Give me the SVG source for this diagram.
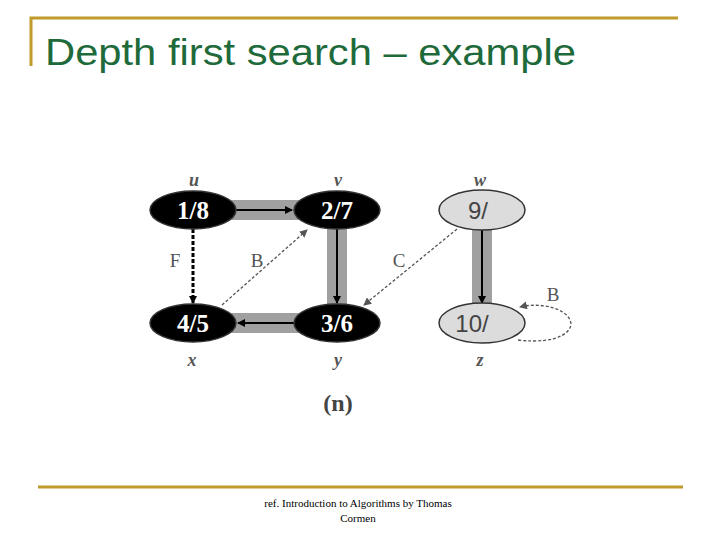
<svg xmlns="http://www.w3.org/2000/svg" width="720" height="540" viewBox="0 0 720 540">
<defs>
<style>
.gold{stroke:#c09a2a;stroke-width:3;fill:none}
.tree{stroke:#a0a0a0;stroke-width:20;fill:none}
.e{stroke:#000;stroke-width:2;fill:none}
.d{stroke:#555;stroke-width:1.3;stroke-dasharray:3 2;fill:none}
.blk{fill:#000;stroke:#333;stroke-width:1.5}
.gry{fill:#dcdcdc;stroke:#333;stroke-width:1.5}
.nw{font-family:"Liberation Serif",serif;font-weight:bold;font-size:25px;fill:#fff;text-anchor:middle}
.ng{font-family:"Liberation Sans",sans-serif;font-size:24px;fill:#444;text-anchor:middle}
.lb{font-family:"Liberation Serif",serif;font-style:italic;font-weight:bold;font-size:18px;fill:#555;text-anchor:middle}
.el{font-family:"Liberation Serif",serif;font-size:19px;fill:#555;text-anchor:middle}
</style>
<marker id="a" markerWidth="8" markerHeight="8" refX="7" refY="4" orient="auto" markerUnits="userSpaceOnUse"><path d="M0,0 L8,4 L0,8 Z" fill="#000"/></marker>
<marker id="ag" markerWidth="8" markerHeight="8" refX="7" refY="4" orient="auto" markerUnits="userSpaceOnUse"><path d="M0,0 L8,4 L0,8 Z" fill="#555"/></marker>
</defs>
<path class="gold" d="M31,66 V18 H678"/>
<path class="gold" d="M38,487 H683"/>
<text x="45" y="65" font-family="Liberation Sans,sans-serif" font-size="36" fill="#1e6a3a" textLength="531" lengthAdjust="spacingAndGlyphs">Depth first search – example</text>
<g id="connectors">
<path class="tree" d="M230,210 H300"/>
<path class="tree" d="M337,222 V310"/>
<path class="tree" d="M300,323 H230"/>
<path class="tree" d="M482,222 V310"/>
<path class="e" d="M236,210 H292" marker-end="url(#a)"/>
<path class="e" d="M337,228 V303" marker-end="url(#a)"/>
<path class="e" d="M294,323 H238" marker-end="url(#a)"/>
<path class="e" d="M482,230 V303" marker-end="url(#a)"/>
<path d="M193,229 V303" stroke="#000" stroke-width="3" stroke-dasharray="4 2" fill="none" marker-end="url(#a)"/>
<path class="d" d="M222,305 L307,230" marker-end="url(#ag)"/>
<path class="d" d="M457,229 L364,305" marker-end="url(#ag)"/>
<path class="d" d="M518,340 C560,345 575,330 570,320 C565,308 540,302 520,307" marker-end="url(#ag)"/>
<text class="el" x="175" y="267">F</text>
<text class="el" x="257" y="267">B</text>
<text class="el" x="399" y="267">C</text>
<text class="el" x="553" y="301">B</text>
</g>
<g id="u"><ellipse class="blk" cx="193" cy="210" rx="43" ry="19"/><text class="nw" x="193" y="219">1/8</text><text class="lb" x="194" y="186">u</text></g>
<g id="v"><ellipse class="blk" cx="337" cy="210" rx="43" ry="19"/><text class="nw" x="337" y="219">2/7</text><text class="lb" x="338" y="186">v</text></g>
<g id="w"><ellipse class="gry" cx="482" cy="210" rx="43" ry="20"/><text class="ng" x="478" y="219">9/</text><text class="lb" x="480" y="186">w</text></g>
<g id="x"><ellipse class="blk" cx="193" cy="323" rx="43" ry="19"/><text class="nw" x="193" y="332">4/5</text><text class="lb" x="192" y="366">x</text></g>
<g id="y"><ellipse class="blk" cx="337" cy="323" rx="43" ry="19"/><text class="nw" x="337" y="332">3/6</text><text class="lb" x="338" y="366">y</text></g>
<g id="z"><ellipse class="gry" cx="482" cy="323" rx="43" ry="20"/><text class="ng" x="472" y="332">10/</text><text class="lb" x="480" y="366">z</text></g>
<text x="338" y="411" font-family="Liberation Serif,serif" font-size="24" font-weight="bold" fill="#444" text-anchor="middle">(n)</text>
<text x="358" y="507" font-family="Liberation Serif,serif" font-size="11" text-anchor="middle">ref. Introduction to Algorithms by Thomas</text>
<text x="358" y="522" font-family="Liberation Serif,serif" font-size="11" text-anchor="middle">Cormen</text>
</svg>
